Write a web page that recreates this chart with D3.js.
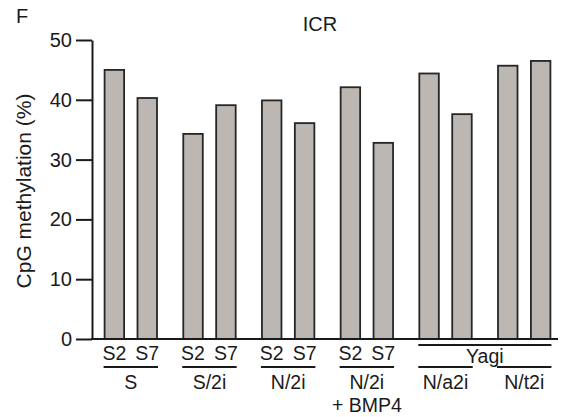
<!DOCTYPE html>
<html>
<head>
<meta charset="utf-8">
<script src="https://cdn.jsdelivr.net/npm/d3@7"></script>
<style>
  body { margin: 0; background: #fff; }
  text { font-family: "Liberation Sans", Arial, sans-serif; fill: #1a1a1a; }
</style>
</head>
<body>
<div id="chart"></div>
<script>
// Data
const groups = ["S", "S/2i", "N/2i", "N/2i + BMP4", "N/a2i", "N/t2i"];
const lines = ["S2", "S7"];
const values = [
    [45.0, 40.3],
    [34.3, 39.1],
    [39.9, 36.1],
    [42.1, 32.8],
    [44.4, 37.6],
    [45.7, 46.5]
];
const yTicks = [0, 10, 20, 30, 40, 50];
const yagiGroups = ["N/a2i", "N/t2i"];

const width = 566;
const height = 417;
const axisX = 92;

const svg = d3.select("#chart").append("svg")
    .attr("width", width)
    .attr("height", height);

const y = d3.scaleLinear().domain([0, 50]).range([339, 40]);

const x0 = d3.scaleBand()
    .domain(groups)
    .range([axisX, 563])
    .paddingInner(0.334)
    .paddingOuter(0.16);

const x1 = d3.scaleBand()
    .domain(lines)
    .range([0, x0.bandwidth()])
    .paddingInner(0.407)
    .paddingOuter(0);

// Bars
const bars = [];
groups.forEach((g, i) => lines.forEach((l, j) => bars.push({ group: g, line: l, value: values[i][j] })));

svg.append("g").selectAll("rect")
    .data(bars)
    .join("rect")
    .attr("x", d => x0(d.group) + x1(d.line))
    .attr("y", d => y(d.value))
    .attr("width", x1.bandwidth())
    .attr("height", d => y(0) - y(d.value))
    .attr("fill", "#bcb7b3")
    .attr("stroke", "#262626")
    .attr("stroke-width", 1.8);

// Y axis
const yAxis = svg.append("g")
    .attr("transform", `translate(${axisX},0)`)
    .call(d3.axisLeft(y).tickValues(yTicks).tickSize(16).tickPadding(4).tickSizeOuter(0));
yAxis.select(".domain").attr("stroke", "#1a1a1a").attr("stroke-width", 2);
yAxis.selectAll(".tick line").attr("stroke", "#1a1a1a").attr("stroke-width", 2);
yAxis.selectAll(".tick text")
    .style("font-family", "'Liberation Sans', Arial, sans-serif")
    .style("font-size", "20px")
    .attr("fill", "#1a1a1a");

// Baseline
svg.append("line")
    .attr("x1", axisX - 1).attr("x2", 558)
    .attr("y1", y(0)).attr("y2", y(0))
    .attr("stroke", "#1a1a1a").attr("stroke-width", 2);

// Bar labels (not for Yagi groups)
svg.append("g").selectAll("text")
    .data(bars.filter(d => !yagiGroups.includes(d.group)))
    .join("text")
    .attr("x", d => x0(d.group) + x1(d.line) + x1.bandwidth() / 2)
    .attr("y", 360)
    .attr("text-anchor", "middle")
    .style("font-size", "19.5px")
    .text(d => d.line);

// Group underlines
svg.append("g").selectAll("line")
    .data(groups)
    .join("line")
    .attr("x1", d => x0(d) - 1)
    .attr("x2", d => x0(d) + x0.bandwidth() + 1)
    .attr("y1", 367).attr("y2", 367)
    .attr("stroke", "#1a1a1a").attr("stroke-width", 1.8);

// Group labels
const gl = svg.append("g").selectAll("text")
    .data(groups)
    .join("text")
    .attr("x", d => x0(d) + x0.bandwidth() / 2)
    .attr("y", 389)
    .attr("text-anchor", "middle")
    .style("font-size", "19.5px");
gl.append("tspan")
    .text(d => d.split(" + ")[0]);
gl.filter(d => d.includes(" + ")).append("tspan")
    .attr("x", d => x0(d) + x0.bandwidth() / 2)
    .attr("dy", 23)
    .text(d => "+ " + d.split(" + ")[1]);

// Yagi bracket
const yagiLeft = x0(yagiGroups[0]) - 1;
const yagiRight = x0(yagiGroups[1]) + x0.bandwidth() + 1;
svg.append("line")
    .attr("x1", yagiLeft).attr("x2", yagiRight)
    .attr("y1", 345).attr("y2", 345)
    .attr("stroke", "#1a1a1a").attr("stroke-width", 1.8);
svg.append("text")
    .attr("x", (yagiLeft + yagiRight) / 2)
    .attr("y", 363)
    .attr("text-anchor", "middle")
    .style("font-size", "19.5px")
    .text("Yagi");

// Axis title
svg.append("text")
    .attr("transform", "translate(31,191) rotate(-90)")
    .attr("text-anchor", "middle")
    .style("font-size", "21px")
    .text("CpG methylation (%)");

// Chart title and panel letter
svg.append("text")
    .attr("x", 320).attr("y", 31)
    .attr("text-anchor", "middle")
    .style("font-size", "20px")
    .text("ICR");

svg.append("text")
    .attr("x", 16).attr("y", 23)
    .style("font-size", "20px")
    .text("F");
</script>
</body>
</html>
